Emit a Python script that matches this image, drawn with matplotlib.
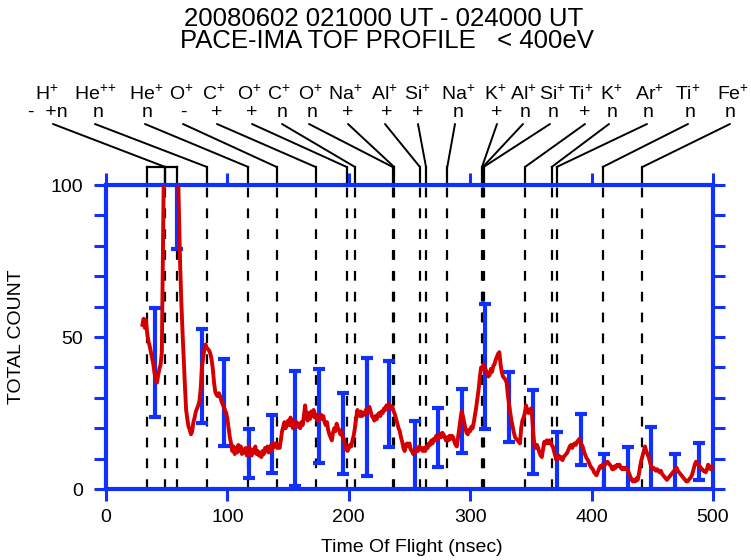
import matplotlib
matplotlib.use("Agg")
import matplotlib.pyplot as plt
import matplotlib.transforms as mtransforms
import numpy as np

plt.rcParams['font.family'] = ['Liberation Sans', 'DejaVu Sans']
plt.rcParams['mathtext.fontset'] = 'custom'
plt.rcParams['mathtext.rm'] = 'Liberation Sans'
plt.rcParams['mathtext.default'] = 'regular'
plt.rcParams['lines.scale_dashes'] = False

# ---------------- data ----------------
title_lines = ["20080602 021000 UT - 024000 UT", "PACE-IMA TOF PROFILE   < 400eV"]
x_label = "Time Of Flight (nsec)"
y_label = "TOTAL COUNT"
x_ticks = [0, 100, 200, 300, 400, 500]
y_ticks = [0, 50, 100]

tof_head = [30, 31, 32, 33, 34, 35, 36, 37, 38, 39, 40, 41, 42, 43, 44, 45, 46, 46.7, 47.5,
            48.5, 50, 55, 58.5, 59.6, 61, 62, 63, 64, 65, 66, 67, 68, 69, 70, 71, 72, 73, 74,
            75, 76, 77, 78, 79, 80, 81, 82, 83, 84, 85, 86, 87, 88, 89, 90, 91, 92, 93, 94,
            95, 96, 97, 98, 99, 100]
counts_head = [54, 56, 53, 55.5, 51, 48.5, 47, 45, 43, 41, 38, 36, 35, 37.5, 39.5, 41, 45, 70,
               100, 130, 150, 150, 130, 100, 75, 62, 52, 43, 34, 26, 23, 20.5, 19.5, 18, 19,
               22, 23.5, 25.5, 26.5, 27.5, 29, 33, 40, 43, 46, 47.5, 46.5, 46, 45.5, 44.5,
               42.5, 39.5, 35, 32, 31, 30.5, 31.5, 30.5, 29, 28, 27, 26, 25, 23]

tof_tail = list(range(101, 501))
counts_tail = [
    20, 17, 15, 12.5, 14, 11.5, 13.5, 12, 14.5, 12.5,
    14, 11.5, 13, 12, 13.5, 11, 12.5, 14, 12, 11,
    13, 12, 14, 11.5, 12.5, 11, 12, 10.5, 12.5, 11.5,
    13.5, 12.5, 14, 12, 13, 14.5, 13, 15, 14, 15,
    13.5, 14.5, 13.5, 16, 19, 20.5, 22, 20, 21.5, 22.5,
    21, 23.5, 21, 20, 22, 21, 22, 20.5, 21.5, 20,
    22, 21, 24, 27.5, 24, 22.5, 25, 23, 25.5, 24,
    26, 23.5, 24.5, 22.5, 24, 23, 24.5, 23, 24, 22,
    21, 22, 19.5, 18, 17, 16, 18.5, 20, 19, 21.5,
    20, 19.5, 18, 19, 17, 16.5, 14, 13, 12.5, 13.5,
    14.5, 14, 16, 17.5, 20, 23, 26, 25, 24, 25.5,
    24, 25, 24.5, 26, 25, 26.5, 27, 25.5, 24, 23.5,
    22.5, 24, 23, 24.5, 25, 24, 25.5, 25, 26.5, 26,
    27.5, 26.5, 28, 27.5, 26.5, 27, 25.5, 24.5, 23, 21.5,
    20, 19, 17, 15.5, 13.5, 12.5, 14.5, 15, 14, 15,
    13, 12.5, 11.5, 12.5, 12, 13.5, 12.5, 14, 13, 13.5,
    12.5, 13.5, 12.5, 14, 13.5, 15, 14.5, 16, 15, 16.5,
    16, 17.5, 16.5, 17.5, 18, 17, 18.5, 18, 17, 16,
    17, 16, 17.5, 16.5, 17.5, 17, 15.5, 14.5, 14, 17,
    20, 23, 25.5, 24, 22, 20, 18.5, 18, 19.5, 19,
    20.5, 20, 22, 24.5, 27, 30, 33, 37, 40, 39.5,
    41, 40, 39, 38, 37, 37.5, 39.5, 38.5, 40.5, 41,
    42.5, 43.5, 44.5, 45, 41, 38.5, 37, 36.5, 36, 35,
    31, 28, 25, 22.5, 20.5, 18.5, 17, 16.5, 16, 15.5,
    15, 20, 22.5, 23.5, 25, 27.5, 26, 25, 25.5, 26.5,
    24, 18, 14, 13.5, 14.5, 13.5, 12, 11, 10.5, 13,
    15.5, 15, 16, 15, 16, 15.5, 14.5, 14, 12.5, 11,
    9.5, 10.5, 11, 10, 10.5, 9.5, 10.5, 11, 11.5, 12,
    13, 14, 14.5, 13.5, 14.5, 15, 14.5, 15.5, 16, 16.5,
    15, 14.5, 13.5, 12, 11, 10, 9.5, 8.5, 7.5, 7,
    6.5, 5.5, 5, 4.5, 5.5, 6.5, 7.5, 7, 8, 7.5,
    8, 8.5, 9, 8.5, 8, 7.5, 6.5, 6.5, 7.5, 7,
    8, 7.5, 8, 7, 6.5, 7, 6.5, 7, 6.5, 6,
    5, 4, 3, 2.5, 3, 2.5, 3.5, 3, 5, 7.5,
    9.5, 11, 12.5, 14, 12.5, 11.5, 10.5, 9, 7.5, 6.5,
    7, 6.5, 6, 6.5, 6, 5.5, 6, 5, 4.5, 4,
    3.5, 3, 3.5, 4, 4.5, 5, 5.5, 6, 6.5, 7,
    6, 5.5, 5, 4.5, 4, 3.5, 3, 2.5, 2.5, 3,
    3.5, 4, 5, 6.5, 8, 9, 8.5, 8, 7.5, 7,
    6.5, 6, 6, 5.5, 6.5, 8, 7, 6.5, 7.5, 7]

err_tof = [40.4, 58.8, 78.8, 97.2, 118.0, 137.0, 156.0, 175.5, 195.5, 214.7, 233.4, 254.5,
           273.7, 293.0, 312.2, 332.2, 351.5, 371.2, 391.3, 410.5, 429.7, 449.0, 468.7, 488.5]
err_low = [23.7, 78.8, 21.8, 14.1, 3.7, 5.4, 1.0, 8.4, 4.8, 4.3, 13.7, -2.0,
           7.1, 11.9, 19.6, 15.4, 4.9, -2.0, 7.9, -2.0, -2.0, -2.0, -2.0, 3.0]
err_high = [59.5, 122.0, 52.5, 42.7, 19.7, 24.3, 38.9, 39.5, 31.5, 43.0, 42.1, 22.5,
            26.7, 32.8, 60.7, 38.6, 32.6, 18.8, 24.6, 11.5, 13.7, 20.3, 11.5, 15.0]

ion_names = ["H$^{+}$", "He$^{{+}{+}}$", "He$^{+}$", "O$^{+}$", "C$^{+}$", "O$^{+}$", "C$^{+}$",
             "O$^{+}$", "Na$^{+}$", "Al$^{+}$", "Si$^{+}$", "Na$^{+}$", "K$^{+}$", "Al$^{+}$",
             "Si$^{+}$", "Ti$^{+}$", "K$^{+}$", "Ar$^{+}$", "Ti$^{+}$", "Fe$^{+}$"]
ion_states = ["-  +n", "n", "n", "-", "+", "+", "n", "n", "+", "+", "+", "n", "+", "n",
              "n", "+", "n", "n", "n", "n"]
ion_tof = [48.8, 83.2, 117.2, 140.6, 172.7, 198.3, 205.1, 236.2, 237.4, 258.6, 263.6, 281.1,
           309.7, 310.4, 311.0, 345.1, 367.1, 371.2, 409.1, 441.8]
h_group_tof = [33.5, 48.8, 58.2]

# ---------------- layout (pixels of the 751x560 figure) ----------------
W, H = 751, 560
name_x_px = [47, 95, 146, 181, 214, 249, 279, 310, 345, 384, 417, 458, 495, 523, 552, 581,
             611, 649, 688, 733]
state_x_px = [48, 98, 147, 183, 217, 252, 282, 312, 348, 387, 418, 458, 497, 525, 553, 585,
              612, 648, 690, 730]
line_x_px = [53, 95, 145, 183, 217, 252, 282, 309, 348, 385, 418, 455, 497, 523, 550, 585,
             609, 647, 688, 730]
name_base_px = 100
state_base_px = 117
line_start_px = 124
elbow_axes_y = 1.0592

BLUE = '#1030ff'
RED = '#d40000'

tof = tof_head + tof_tail
counts = counts_head + counts_tail

fig = plt.figure(figsize=(W / 100, H / 100), dpi=100)
ax = fig.add_axes([106 / W, 1 - 489 / H, (713 - 106) / W, (489 - 185) / H])
ax.set_xlim(0, 500)
ax.set_ylim(0, 100)

# dashed markers
for t in sorted(set(ion_tof + h_group_tof)):
    ax.axvline(t, color='black', lw=1.6, dashes=(7, 8), zorder=1)

# error bars
err_low_a = np.array(err_low)
err_high_a = np.array(err_high)
centre = (err_low_a + err_high_a) / 2
half = (err_high_a - err_low_a) / 2
ax.errorbar(err_tof, centre, yerr=half, fmt='none', ecolor=BLUE, elinewidth=3.0,
            capsize=4.0, capthick=3.0, zorder=2)

# profile
ax.plot(tof, counts, color=RED, lw=2.8, zorder=3, solid_joinstyle='round')

# axes styling
for s in ax.spines.values():
    s.set_color(BLUE)
    s.set_linewidth(3.0)
ax.set_xticks(x_ticks)
ax.set_yticks(y_ticks)
ax.set_yticks(np.arange(0, 101, 10), minor=True)
ax.tick_params(axis='both', which='both', direction='out', color=BLUE, width=2.2,
               length=8.6, labelsize=14, top=True, right=True)
ax.tick_params(axis='y', which='both', pad=8)
ax.tick_params(axis='x', which='both', pad=6)
ax.tick_params(axis='x', which='minor', length=0)

fig.text(17 / W, 1 - 337 / H, y_label, rotation=90, ha='center', va='center', fontsize=14)
fig.text(412 / W, 1 - 548 / H, x_label, ha='center', va='center', fontsize=14)

fig.text(384 / W, 1 - 26 / H, title_lines[0], ha='center', va='baseline', fontsize=18.5)
fig.text(387 / W, 1 - 48 / H, title_lines[1], ha='center', va='baseline', fontsize=18.5)

# ion labels and connectors
blend = mtransforms.blended_transform_factory(ax.transData, ax.transAxes)
for name, state, t, nx, sx, lx in zip(ion_names, ion_states, ion_tof, name_x_px, state_x_px,
                                      line_x_px):
    fig.text(nx / W, 1 - name_base_px / H, name, ha='center', va='baseline', fontsize=14)
    fig.text(sx / W, 1 - state_base_px / H, state, ha='center', va='baseline', fontsize=14)
    ax.annotate('', xy=(t, elbow_axes_y), xycoords=blend,
                xytext=(lx / W, 1 - line_start_px / H), textcoords='figure fraction',
                arrowprops=dict(arrowstyle='-', color='black', lw=1.4, shrinkA=0, shrinkB=0),
                annotation_clip=False)
    ax.plot([t, t], [elbow_axes_y, 1.0], transform=blend, color='black', lw=1.6,
            clip_on=False, zorder=1)

ax.plot([min(h_group_tof), max(h_group_tof)], [elbow_axes_y, elbow_axes_y], transform=blend,
        color='black', lw=1.6, clip_on=False)
for t in h_group_tof:
    ax.plot([t, t], [elbow_axes_y, 1.0], transform=blend, color='black', lw=1.6,
            clip_on=False, zorder=1)

fig.savefig('out.png', dpi=100)
